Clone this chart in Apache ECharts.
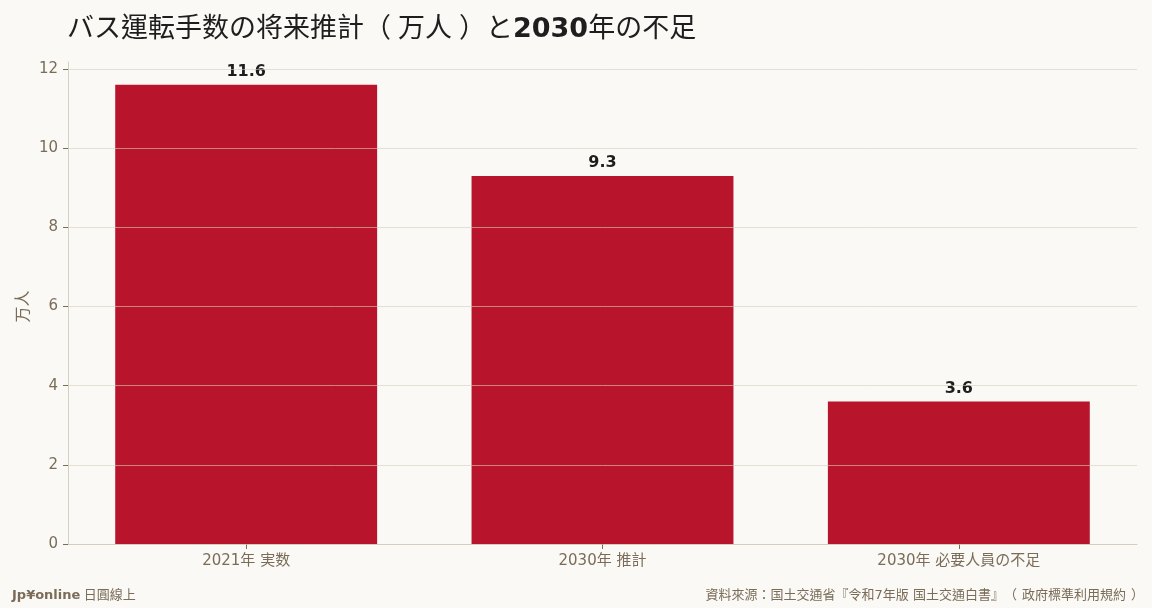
<!DOCTYPE html>
<html>
<head>
<meta charset="utf-8">
<script src="https://cdn.jsdelivr.net/npm/echarts@6/dist/echarts.min.js"></script>
<style>
html,body{margin:0;padding:0;background:#faf9f5;}
#main{width:1152px;height:608px;}
</style>
</head>
<body>
<div id="main"></div>
<script>
'use strict';
(function(){
	var categories = ['2021年 実数', '2030年 推計', '2030年 必要人員の不足'];
	var values = [11.6, 9.3, 3.6];
	var yTicks = [0, 2, 4, 6, 8, 10, 12];

	var textColor = '#7a6c58';
	var font = '"DejaVu Sans", "Noto Sans CJK TC", sans-serif';

	var chart = echarts.init(document.getElementById('main'));

	//全角括号左右留白
	function titleStyle(extra){
		var s = { fontSize: 27, color: '#1e1e1e', fontFamily: font, fontWeight: 'normal' };
		for (var k in extra) s[k] = extra[k];
		return s;
	}
	function footStyle(extra){
		var s = { fontSize: 13, fill: textColor, fontFamily: font };
		for (var k in extra) s[k] = extra[k];
		return s;
	}

	chart.setOption({
		backgroundColor: '#faf9f5',
		animation: false,
		textStyle: { fontFamily: font },
		title: {
			left: 62,
			top: 11,
			text: '{a|バス運転手数の将来推計}{l|（}{a|万人}{r|）}{a|と}{b|2030}{a|年の不足}',
			textStyle: {
				rich: {
					a: titleStyle({}),
					l: titleStyle({ padding: [0, 7, 0, 0] }),
					r: titleStyle({ padding: [0, 0, 0, 7] }),
					b: titleStyle({ fontWeight: 'bold' })
				}
			}
		},
		graphic: [
			{
				type: 'text', left: 12, top: 589,
				style: {
					text: '{b|Jp¥online} {a|日圓線上}',
					rich: {
						a: footStyle({}),
						b: footStyle({ fontWeight: 'bold' })
					}
				}
			},
			{
				type: 'text', right: 8, top: 589,
				style: {
					text: '{a|資料來源：国土交通省『令和7年版 国土交通白書』}{l|（}{a|政府標準利用規約}{r|）}',
					rich: {
						a: footStyle({}),
						l: footStyle({ padding: [0, 5, 0, 0] }),
						r: footStyle({ padding: [0, 0, 0, 5] })
					}
				}
			}
		],
		grid: [
			{ left: 68, right: 15, top: 69, bottom: 64 },
			{ left: 68, right: 15, top: 62, bottom: 64 }
		],
		xAxis: [
			{
				type: 'category', gridIndex: 0, data: categories,
				axisLine: { lineStyle: { color: '#d6cfc0', width: 1 } },
				axisTick: { show: true, alignWithLabel: true, length: 5, lineStyle: { color: '#7a6c58' } },
				axisLabel: { color: textColor, fontSize: 15, margin: 10, fontFamily: font }
			},
			{
				type: 'category', gridIndex: 1, data: categories, show: false
			}
		],
		yAxis: [
			{
				type: 'value', gridIndex: 0, min: 0, max: 12, interval: 2,
				z: 5,
				name: '万人', nameLocation: 'middle', nameGap: 36, nameRotate: 90,
				nameMoveOverlap: false,
				nameTextStyle: { color: textColor, fontSize: 16, fontFamily: font },
				axisLine: { show: false },
				axisTick: { show: true, length: 5, lineStyle: { color: '#7a6c58' } },
				axisLabel: {
					color: textColor, fontSize: 15, margin: 10, fontFamily: font,
					formatter: function(v){ return yTicks.indexOf(v) >= 0 ? String(v) : ''; }
				},
				splitLine: { show: true, lineStyle: { color: 'rgba(214,205,185,0.6)', width: 1 } }
			},
			{
				type: 'value', gridIndex: 1, min: 0, max: 1,
				axisLine: { show: true, lineStyle: { color: '#d6cfc0', width: 1 } },
				axisTick: { show: false },
				axisLabel: { show: false },
				splitLine: { show: false }
			}
		],
		series: [
			{
				type: 'bar',
				xAxisIndex: 0, yAxisIndex: 0,
				data: values,
				barWidth: '73.5%',
				itemStyle: { color: '#b8152d' },
				label: {
					show: true, position: 'top', distance: 5,
					color: '#1e1e1e', fontSize: 16, fontWeight: 'bold', fontFamily: font,
					formatter: function(p){ return p.value.toFixed(1); }
				}
			}
		]
	});
}());
</script>
</body>
</html>
